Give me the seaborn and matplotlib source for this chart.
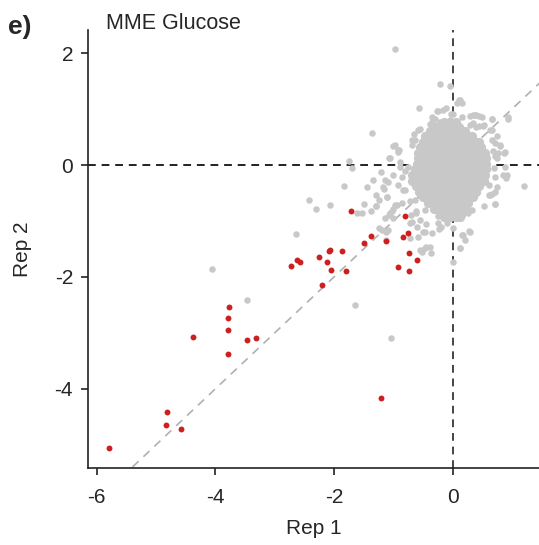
import matplotlib
matplotlib.use("Agg")
import matplotlib.pyplot as plt
import numpy as np
import pandas as pd
import seaborn as sns

# red (significant) points, Rep 1 vs Rep 2
red_x = [-5.79, -4.81, -4.83, -4.58, -4.38, -3.77, -3.79, -3.78, -3.79, -3.46,
         -3.31, -2.73, -2.62, -2.58, -2.25, -2.12, -2.09, -2.06, -2.05, -2.21,
         -1.86, -1.80, -1.72, -1.50, -1.38, -1.13, -1.20, -0.93, -0.81, -0.76,
         -0.83, -0.74, -0.74, -0.60]
red_y = [-5.06, -4.42, -4.64, -4.72, -3.08, -2.53, -2.74, -2.95, -3.37, -3.13,
         -3.09, -1.80, -1.70, -1.74, -1.64, -1.73, -1.54, -1.51, -1.88, -2.14,
         -1.54, -1.90, -0.83, -1.40, -1.26, -1.35, -4.17, -1.83, -0.92, -1.21,
         -1.29, -1.58, -1.89, -1.70]

# grey outliers around the main cloud
grey_out_x = [-0.97, -0.21, -0.05, 0.11, 0.15, -0.57, -0.25, -0.12, 0.01, -1.36,
              0.94, 0.67, 0.40, 0.29, 0.51, 0.80, 0.87, 0.74, 0.89, 0.91,
              1.20, 0.72, 0.63, 0.74, -1.74, -1.70, -1.84, -2.07, -2.31, -2.42,
              -1.44, -1.29, -1.49, -1.38, -1.21, -1.07, -0.98, -0.91, -0.89, -1.00,
              -1.14, -1.15, -1.62, -1.53, -1.24, -1.12, -1.06, -1.01, -0.94, -0.86,
              -0.72, -0.72, -0.60, -0.58, -0.72, -0.47, -0.35, -0.23, -0.10, -0.24,
              0.12, 0.26, 0.29, 0.18, 0.12, 0.21, -0.47, -0.38, -0.52, 0.01,
              -1.07, -1.14, -1.25, -1.10, -1.18, -2.64, -4.05, -3.47, -1.65, -1.04,
              -1.29, -0.36, -1.35, -1.30, -1.09, 0.12, 0.08, -0.27, -0.16, -0.02,
              -0.35, -0.35, -0.21, -0.07, 0.38, 0.45, 0.52, 0.66, 0.93, -0.55,
              -0.64, -0.69, -1.00, -0.92, -1.06, 0.63, 0.74, 0.80, 0.88, 0.71,
              0.71, 0.71, 0.61, 0.85, 0.90, -1.09, -1.11, -0.97, -1.03, -1.00,
              -0.69, -0.61, -0.50, -0.19, 0.28, 0.15, 0.13, -0.55, -0.45, -1.19,
              -1.12, -0.84, -0.80, -0.88, -0.66, 0.62, 0.66, 0.68, 0.70, 0.35,
              0.45, -0.62, -0.70, -0.55, -0.45, 0.00, -0.05, 0.30, 0.40,
              -0.92, -0.69, -0.58, -0.38, -0.30, -0.19, 0.15, 0.35, 0.49, 0.66,
              0.71, 0.77, 0.71, 0.66, 0.52, -0.86, -0.80, -0.64, -0.47, -0.24,
              0.15, 0.32, -0.92, -0.75]
grey_out_y = [2.07, 1.45, 1.41, 1.17, 1.11, 1.02, 0.97, 1.01, 0.92, 0.57,
              0.83, 0.82, 0.89, 0.875, 0.69, 0.36, 0.21, 0.12, -0.03, -0.18,
              -0.375, -0.70, -0.54, -0.39, 0.08, -0.06, -0.375, -0.71, -0.79, -0.625,
              -0.40, -0.54, -0.70, -0.82, -0.12, 0.12, 0.36, 0.26, -0.03, -0.18,
              -0.27, -0.43, -0.85, -0.85, -1.13, -1.19, -0.85, -0.79, -0.71, -0.68,
              -0.65, -1.04, -1.10, -1.28, -1.31, -1.19, -1.21, -1.15, -1.04, -1.04,
              -0.92, -0.85, -1.19, -1.25, -1.49, -1.34, -1.49, -1.46, -1.55, -1.73,
              -0.89, -0.95, -0.625, -0.57, -0.39, -1.24, -1.86, -2.41, -2.51, -3.10,
              -0.74, -1.57, -0.27, -0.73, -1.16, 1.16, 1.11, 0.97, 0.98, 0.92,
              0.86, 0.77, 0.76, 0.74, 0.89, 0.875, 0.71, 0.82, 0.85, 0.65,
              0.45, 0.36, 0.34, 0.26, 0.12, 0.625, 0.51, 0.34, 0.24, 0.16,
              -0.49, -0.70, -0.54, -0.18, -0.24, -0.30, -0.58, -0.71, -0.83, -0.95,
              -1.01, -0.83, -1.19, -1.10, -1.18, -1.25, -1.49, -1.52, -1.47, -1.16,
              -1.34, -0.45, -0.10, 0.05, 0.55, -0.35, 0.45, 0.25, -0.05, 0.75,
              0.70, -0.85, -0.90, -0.98, -1.05, -1.12, 0.80, 0.72, 0.68,
              0.24, 0.45, 0.62, 0.74, 0.83, 0.74, 0.86, 0.89, 0.86, 0.625,
              0.39, 0.21, -0.21, -0.51, -0.74, -0.21, -0.45, -0.625, -0.80, -0.92,
              -0.92, -0.80, -0.36, -0.03]

# dense core of the grey cloud: rows of (Rep 2 value, Rep 1 values)
core_rows = [
    (0.76, [-0.15, -0.05, 0.05]),
    (0.68, [-0.28, -0.20, -0.10, 0.00, 0.10]),
    (0.60, [-0.38, -0.28, -0.18, -0.08, 0.02, 0.12, 0.20]),
    (0.52, [-0.46, -0.42, -0.35, -0.25, -0.15, -0.05, 0.05, 0.15, 0.25, 0.33]),
    (0.42, [-0.50, -0.40, -0.30, -0.20, -0.10, 0.00, 0.10, 0.20, 0.30, 0.40, 0.44]),
    (0.32, [-0.55, -0.45, -0.35, -0.25, -0.15, -0.05, 0.05, 0.15, 0.25, 0.35, 0.45, 0.48]),
    (0.22, [-0.58, -0.50, -0.40, -0.30, -0.20, -0.10, 0.00, 0.10, 0.20, 0.30, 0.40, 0.50, 0.54]),
    (0.12, [-0.58, -0.55, -0.45, -0.35, -0.25, -0.15, -0.05, 0.05, 0.15, 0.25, 0.35, 0.45, 0.52, 0.56]),
    (0.02, [-0.60, -0.50, -0.40, -0.30, -0.20, -0.10, 0.00, 0.10, 0.20, 0.30, 0.40, 0.50, 0.56]),
    (-0.08, [-0.64, -0.55, -0.45, -0.35, -0.25, -0.15, -0.05, 0.05, 0.15, 0.25, 0.35, 0.45, 0.52, 0.56]),
    (-0.18, [-0.68, -0.60, -0.50, -0.40, -0.30, -0.20, -0.10, 0.00, 0.10, 0.20, 0.30, 0.40, 0.50, 0.54]),
    (-0.28, [-0.68, -0.58, -0.48, -0.38, -0.28, -0.18, -0.08, 0.02, 0.12, 0.22, 0.32, 0.42, 0.50, 0.52]),
    (-0.38, [-0.62, -0.52, -0.42, -0.32, -0.22, -0.12, -0.02, 0.08, 0.18, 0.28, 0.38, 0.44]),
    (-0.48, [-0.56, -0.45, -0.35, -0.25, -0.15, -0.05, 0.05, 0.15, 0.25, 0.35, 0.40]),
    (-0.58, [-0.50, -0.40, -0.30, -0.20, -0.10, 0.00, 0.10, 0.20, 0.30, 0.35]),
    (-0.68, [-0.42, -0.30, -0.20, -0.10, 0.00, 0.10, 0.20, 0.26]),
    (-0.78, [-0.32, -0.20, -0.10, 0.00, 0.10, 0.20, 0.22]),
    (-0.86, [-0.22, -0.10, 0.00, 0.10, 0.16]),
    (-0.93, [-0.14, -0.04, 0.06, 0.12]),
]

x_ticks = [-6, -4, -2, 0]
y_ticks = [-4, -2, 0, 2]

core_x = [x for y, xs in core_rows for x in xs]
core_y = [y for y, xs in core_rows for x in xs]
grey = pd.DataFrame({"rep1": grey_out_x, "rep2": grey_out_y})
core = pd.DataFrame({"rep1": core_x, "rep2": core_y})
red = pd.DataFrame({"rep1": red_x, "rep2": red_y})

sns.set_style("ticks")
plt.rcParams["font.family"] = ["Liberation Sans", "DejaVu Sans"]

fig = plt.figure(figsize=(5.39, 5.45), dpi=100)
ax = fig.add_axes([0.164, 0.1407, 0.836, 0.804])

xlim = (-6.14, 1.455)
ylim = (-5.42, 2.41)

# reference lines
ax.axhline(0, color="#222222", lw=1.4, ls=(0, (4, 3)), zorder=1)
ax.axvline(0, color="#444444", lw=1.4, ls=(0, (4, 3)), zorder=1)
ax.plot([-6.5, 2], [-6.5, 2], color="#b0b0b0", lw=1.2, ls=(0, (5, 4)), zorder=1)

grey_col = "#c8c8c8"
sns.scatterplot(data=grey, x="rep1", y="rep2", color=grey_col, s=22,
                linewidth=0, ax=ax, zorder=2)
sns.scatterplot(data=core, x="rep1", y="rep2", color=grey_col, s=44,
                linewidth=0, ax=ax, zorder=2)
sns.scatterplot(data=red, x="rep1", y="rep2", color="#cc1f1f", s=18,
                linewidth=0, ax=ax, zorder=3)

ax.set_xlim(*xlim)
ax.set_ylim(*ylim)
ax.set_xticks(x_ticks)
ax.set_yticks(y_ticks)
ax.set_xticklabels([str(v) for v in x_ticks])
ax.set_yticklabels([str(v) for v in y_ticks])
sns.despine(ax=ax)
for side in ["left", "bottom"]:
    ax.spines[side].set_linewidth(1.2)
    ax.spines[side].set_color("#222222")
ax.tick_params(axis="both", labelsize=15, length=5, width=1.2, color="#222222")
ax.tick_params(axis="x", pad=9)
ax.tick_params(axis="y", pad=6)
ax.set_xlabel("Rep 1", fontsize=15, labelpad=9)
ax.set_ylabel("Rep 2", fontsize=15, labelpad=16)

fig.text(0.014, 0.95, "e)", fontsize=19, fontweight="bold", va="center")
fig.text(0.197, 0.956, "MME Glucose", fontsize=15.5, va="center")

fig.savefig("out.png", dpi=100)
